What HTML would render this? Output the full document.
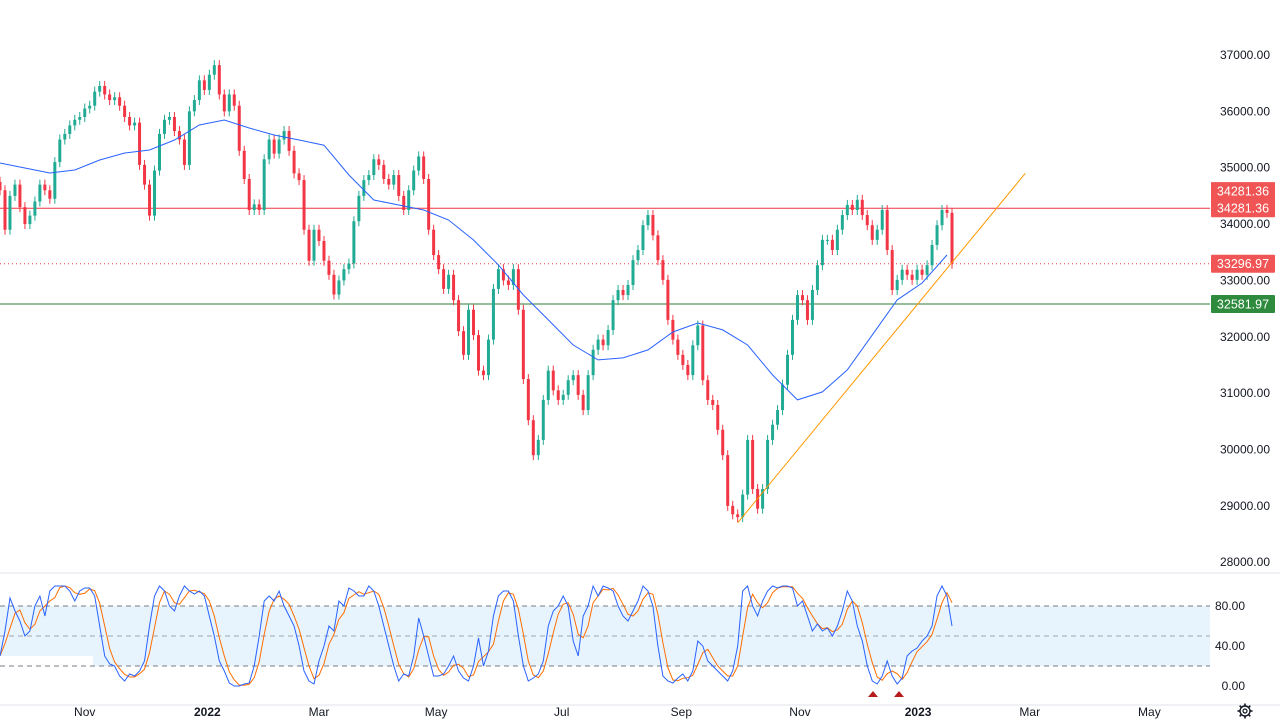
<!DOCTYPE html>
<html><head><meta charset="utf-8"><style>
html,body{margin:0;padding:0;background:#fff;}
svg{display:block;font-family:"Liberation Sans",sans-serif;}
</style></head><body>
<svg id="chart" width="1280" height="728" xmlns="http://www.w3.org/2000/svg">
<rect x="0" y="0" width="1280" height="728" fill="#fff"/>
<g id="stochPanel">
 <rect x="0" y="606" width="1210" height="60" fill="#e3f2fd" opacity="0.85"/>
 <rect x="0" y="656" width="93" height="10" fill="#fff"/>
 <line x1="0" y1="606" x2="1210" y2="606" stroke="#787b86" stroke-dasharray="5,4"/>
 <line x1="0" y1="636" x2="1210" y2="636" stroke="#a0a3ad" stroke-dasharray="5,4"/>
 <line x1="0" y1="666" x2="1210" y2="666" stroke="#787b86" stroke-dasharray="5,4"/>
</g>
<line x1="0" y1="573" x2="1280" y2="573" stroke="#e0e3eb"/>
<line x1="0" y1="705" x2="1280" y2="705" stroke="#e0e3eb"/>
<g id="marks"></g>
<g id="axes"></g>
</svg>
<script>
const closes=[34600,33900,34500,34700,34300,34000,34150,34400,34700,34600,34450,35100,35500,35600,35750,35850,35900,36050,36100,36350,36450,36300,36200,36250,36100,35900,35750,35800,35050,34700,34150,34950,35600,35850,35900,35650,35500,35050,36000,36200,36550,36380,36650,36820,36300,36000,36300,36100,35300,34800,34250,34350,34250,35150,35500,35250,35500,35650,35300,34900,34780,33900,33350,33900,33700,33350,33100,32750,33000,33200,33300,34050,34500,34780,34870,35150,35050,34800,34700,34870,34500,34250,34600,34950,35200,34800,33900,33450,33200,32850,33100,32650,32100,31680,32480,32030,31400,31320,31950,32850,33200,33000,32920,33200,32480,31250,30520,29900,30170,30880,31400,31050,30880,30970,31230,31320,30970,30700,31320,31770,31950,31850,32120,32650,32830,32740,32920,33360,33540,33980,34160,33800,33360,33010,32300,31950,31680,31500,31320,31850,32200,31230,30880,30790,30350,29900,29000,28850,28800,29200,30170,29300,28950,29300,30170,30440,30700,31150,31680,32300,32740,32650,32300,32830,33270,33720,33720,33540,33900,34160,34340,34250,34430,34160,33980,33720,33900,34250,33540,32830,33010,33190,33100,33010,33190,33100,33270,33630,33980,34250,34200,33297];
const maValues=[35084,34995,34907,34960,35137,35262,35315,35492,35758,35847,35705,35581,35492,35400,34871,34428,34339,34250,34073,33718,33275,32742,32300,31855,31590,31625,31767,32086,32245,32122,31855,31323,30880,31022,31412,32033,32654,32955,33452];
const stochK=[30,55,88,75,65,50,55,80,90,70,95,100,100,100,95,85,95,98,98,90,60,30,22,20,10,5,12,10,15,25,60,90,100,95,80,75,90,100,95,92,95,90,70,50,25,15,3,0,0,2,3,20,50,85,90,85,95,80,70,60,40,15,5,2,25,40,60,55,85,80,98,95,90,90,100,95,80,60,40,20,5,12,10,30,68,50,30,10,10,12,20,30,15,8,5,20,48,20,35,70,90,95,95,85,50,20,5,8,12,25,60,75,80,90,80,45,30,70,80,100,90,100,98,95,80,70,65,75,85,100,95,80,40,10,5,3,8,12,5,15,45,40,25,20,15,10,5,15,40,95,100,80,70,85,95,100,98,100,100,98,80,85,70,55,62,55,58,50,60,75,95,85,60,45,20,5,2,10,25,10,2,8,30,35,38,45,50,60,90,100,90,60];
const priceTicks=[37000,36000,35000,34000,33000,32000,31000,30000,29000,28000];
const stochTicks=[80,40,0];
const monthLabels=["Nov","2022","Mar","May","Jul","Sep","Nov","2023","Mar","May"];
const monthIndex=[17,41.6,64,87.5,112.7,136.7,160.5,184.2,206.6,230.6];
const levelResistance=34281.36, levelLast=33296.97, levelSupport=32581.97;
const trendStart=[148,28700], trendEnd=[205.7,34900];

const NS="http://www.w3.org/2000/svg";
const X0=0, X1=952;
const step=(X1-X0)/(closes.length-1);
const xAt=i=>X0+i*step;
const yP=v=>55+(37000-v)*0.05636;
const yS=v=>686-v;
const marks=document.getElementById('marks'), axes=document.getElementById('axes');
function mk(tag,attrs,parent){const e=document.createElementNS(NS,tag);for(const k in attrs)e.setAttribute(k,attrs[k]);parent.appendChild(e);return e;}

let l=mk('line',{x1:0,x2:1210,y1:yP(levelResistance),y2:yP(levelResistance),stroke:'#f23645','stroke-width':1},marks);


l=mk('line',{x1:0,x2:1210,y1:yP(levelLast),y2:yP(levelLast),stroke:'#f23645','stroke-width':1,'stroke-dasharray':'1,3'},marks);


l=mk('line',{x1:0,x2:1210,y1:yP(levelSupport),y2:yP(levelSupport),stroke:'#2e7d32','stroke-width':1},marks);



for(let i=0;i<closes.length;i++){
 const o=i?closes[i-1]:closes[i]+150, c=closes[i];
 const up=c>=o, col=up?'#22ab94':'#f23645';
 const x=xAt(i), yt=yP(Math.max(o,c)), yb=yP(Math.min(o,c));
 const g=mk('g',{},marks);
 
 
 mk('line',{x1:x,x2:x,y1:yt-5,y2:yb+5,stroke:col,'stroke-width':1},g);
 mk('rect',{x:x-1.5,y:yt,width:3,height:Math.max(1,yb-yt),fill:col},g);
}
let d=maValues.map((v,i)=>(i?'L':'M')+(X0+i*25*(step/5)).toFixed(1)+','+yP(v).toFixed(1)).join(' ');
let p=mk('path',{d:d,fill:'none',stroke:'#2962ff','stroke-width':1},marks);


l=mk('line',{x1:xAt(trendStart[0]),y1:yP(trendStart[1]),x2:xAt(trendEnd[0]),y2:yP(trendEnd[1]),stroke:'#ff9800','stroke-width':1},marks);



const stochD=stochK.map((v,i)=>{const a=stochK.slice(Math.max(0,i-2),i+1);return a.reduce((s,x)=>s+x,0)/a.length;});
d=stochD.map((v,i)=>(i?'L':'M')+xAt(i).toFixed(1)+','+yS(v).toFixed(1)).join(' ');
p=mk('path',{d:d,fill:'none',stroke:'#ff6d00','stroke-width':1},marks);


d=stochK.map((v,i)=>(i?'L':'M')+xAt(i).toFixed(1)+','+yS(v).toFixed(1)).join(' ');
p=mk('path',{d:d,fill:'none',stroke:'#2962ff','stroke-width':1},marks);


[{x:873},{x:899}].forEach(a=>{
 const t=mk('polygon',{points:`${a.x-5},697 ${a.x+5},697 ${a.x},691`,fill:'#b71c1c'},marks);
 
 
});

priceTicks.forEach(v=>{
 const t=mk('text',{x:1270,y:yP(v)+4,'text-anchor':'end','font-size':12,fill:'#131722'},axes);
 t.textContent=v.toFixed(2);
 
 
});
stochTicks.forEach(v=>{
 const t=mk('text',{x:1245,y:yS(v)+4,'text-anchor':'end','font-size':12,fill:'#131722'},axes);
 t.textContent=v.toFixed(2);
 
 
});
function badge(v,y,col,name){
 const g=mk('g',{},axes);
 
 
 mk('rect',{x:1211,y:y-9,width:64,height:18,fill:col,rx:1},g);
 const t=mk('text',{x:1243,y:y+4.5,'text-anchor':'middle','font-size':12.5,fill:'#fff'},g);
 t.textContent=v.toFixed(2);
}
const yr=yP(levelResistance);
mk('rect',{x:1211,y:yr-26,width:64,height:34,fill:'#f05454'},axes);
badge(levelResistance,yr-17,'#f05454','resistance-price-badge');
badge(levelResistance,yr,'#f05454','resistance-price-badge-2');
badge(levelLast,yP(levelLast),'#f05454','last-price-badge');
badge(levelSupport,yP(levelSupport),'#2e8b3e','support-price-badge');
monthLabels.forEach((m,i)=>{
 const t=mk('text',{x:xAt(monthIndex[i]),y:716,'text-anchor':'middle','font-size':12,fill:'#131722','font-weight':(m==='2022'||m==='2023')?'bold':'normal'},axes);
 t.textContent=m;
 
 
});
const gear=mk('g',{transform:'translate(1245,711)'},axes);


mk('circle',{cx:0,cy:0,r:5,fill:'none',stroke:'#131722','stroke-width':1.4},gear);
mk('circle',{cx:0,cy:0,r:2,fill:'none',stroke:'#131722','stroke-width':1.2},gear);
for(let k=0;k<8;k++){const a=k*Math.PI/4;mk('line',{x1:5*Math.cos(a),y1:5*Math.sin(a),x2:7.5*Math.cos(a),y2:7.5*Math.sin(a),stroke:'#131722','stroke-width':1.6},gear);}
</script>
</body></html>
